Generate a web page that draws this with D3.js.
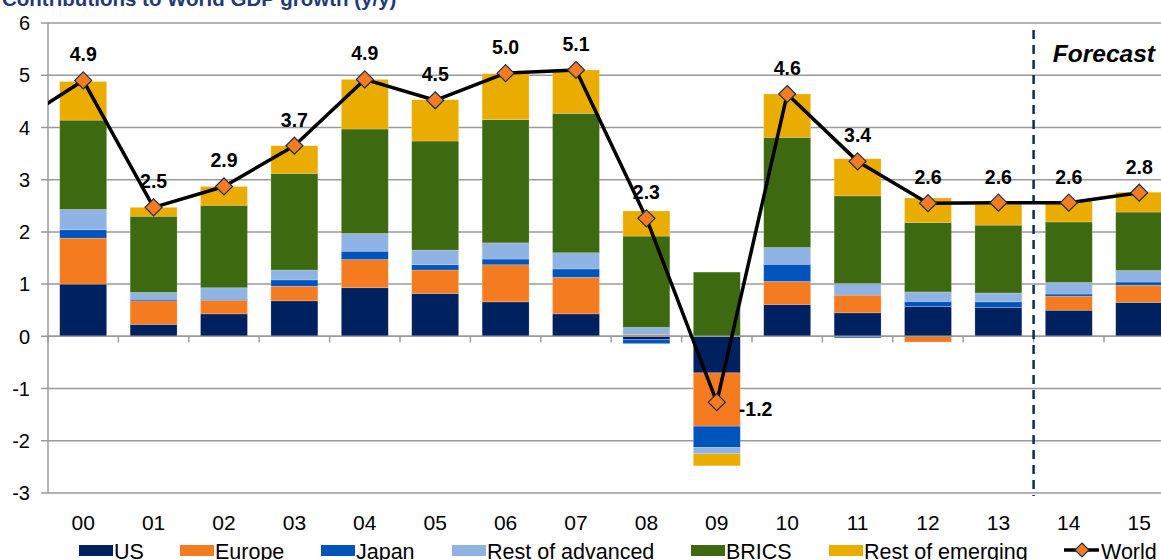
<!DOCTYPE html>
<html>
<head>
<meta charset="utf-8">
<script src="https://d3js.org/d3.v7.min.js"></script>
<style>
body { margin: 0; background: #fff; }
svg { display: block; font-family: "Liberation Sans", Arial, sans-serif; }
</style>
</head>
<body>
<div id="chart"></div>
<script>
// contributions to world GDP growth, percentage points
var years = ["00","01","02","03","04","05","06","07","08","09","10","11","12","13","14","15"];
var us      = [1.00, 0.23, 0.43, 0.68, 0.93, 0.82, 0.66, 0.43, -0.06, -0.70, 0.61, 0.45, 0.57, 0.55, 0.50, 0.65];
var europe  = [0.88, 0.45, 0.26, 0.28, 0.54, 0.45, 0.71, 0.70, 0.03, -1.02, 0.44, 0.34, -0.11, 0.00, 0.27, 0.33];
var japan   = [0.16, 0.03, 0.02, 0.12, 0.16, 0.10, 0.11, 0.16, -0.08, -0.41, 0.33, -0.03, 0.10, 0.11, 0.04, 0.06];
var restAdv = [0.39, 0.13, 0.22, 0.19, 0.34, 0.28, 0.31, 0.31, 0.14, -0.12, 0.32, 0.22, 0.18, 0.17, 0.22, 0.22];
var brics   = [1.71, 1.46, 1.58, 1.85, 2.00, 2.09, 2.36, 2.67, 1.75, 1.23, 2.11, 1.68, 1.33, 1.30, 1.16, 1.12];
var restEm  = [0.74, 0.17, 0.36, 0.53, 0.95, 0.79, 0.88, 0.83, 0.48, -0.23, 0.83, 0.71, 0.47, 0.40, 0.40, 0.38];
var world   = [4.90, 2.47, 2.87, 3.65, 4.92, 4.52, 5.04, 5.10, 2.26, -1.26, 4.64, 3.35, 2.55, 2.56, 2.56, 2.75];
var worldLabels = ["4.9","2.5","2.9","3.7","4.9","4.5","5.0","5.1","2.3","-1.2","4.6","3.4","2.6","2.6","2.6","2.8"];
var world99 = 4.03; // previous year, only the line segment entering the plot is visible
var yTicks = [-3,-2,-1,0,1,2,3,4,5,6];

var seriesNames = ["US","Europe","Japan","Rest of advanced","BRICS","Rest of emerging"];
var seriesVals = [us, europe, japan, restAdv, brics, restEm];
var colors = ["#00215F","#F47B20","#0054BB","#8FB3E2","#3D6A10","#EBAC00"];

var width = 1161, height = 560;
var plotLeft = 48, plotTop = 23, plotBottom = 493;
var step = 70.4;

var svg = d3.select("#chart").append("svg")
	.attr("width", width)
	.attr("height", height);

var xscale = d3.scaleBand()
	.domain(years)
	.range([plotLeft, plotLeft + step*years.length])
	.paddingInner(0.333)
	.paddingOuter(0.1665);

var yscale = d3.scaleLinear()
	.domain([-3, 6])
	.range([plotBottom, plotTop]);

// table for stacking
var table = years.map(function(y, i) {
	var row = {year: y};
	seriesNames.forEach(function(n, j) { row[n] = seriesVals[j][i]; });
	return row;
});
var stacked = d3.stack()
	.keys(seriesNames)
	.offset(d3.stackOffsetDiverging)(table);

// gridlines
svg.append("g")
	.selectAll("line")
	.data(yTicks)
	.enter().append("line")
	.attr("x1", plotLeft - 7)
	.attr("x2", width)
	.attr("y1", function(d) { return yscale(d); })
	.attr("y2", function(d) { return yscale(d); })
	.attr("stroke", "#9a9a9a")
	.attr("stroke-width", 1.5);

// y labels
svg.append("g")
	.selectAll("text")
	.data(yTicks)
	.enter().append("text")
	.attr("x", 30)
	.attr("y", function(d) { return yscale(d); })
	.attr("dy", "0.36em")
	.attr("text-anchor", "end")
	.attr("font-size", 20)
	.attr("fill", "#000")
	.text(function(d) { return d; });

// y axis line
svg.append("line")
	.attr("x1", plotLeft).attr("x2", plotLeft)
	.attr("y1", plotTop).attr("y2", plotBottom)
	.attr("stroke", "#9a9a9a")
	.attr("stroke-width", 1.5);

// bars
svg.append("g")
	.selectAll("g")
	.data(stacked)
	.enter().append("g")
	.attr("fill", function(d, i) { return colors[i]; })
	.selectAll("rect")
	.data(function(d) { return d; })
	.enter().append("rect")
	.attr("x", function(d) { return xscale(d.data.year); })
	.attr("width", xscale.bandwidth())
	.attr("y", function(d) { return yscale(Math.max(d[0], d[1])); })
	.attr("height", function(d) { return Math.abs(yscale(d[0]) - yscale(d[1])); })
	.attr("stroke", "#ffffff")
	.attr("stroke-opacity", 0.35)
	.attr("stroke-width", 0.6);

// x axis at zero with ticks between categories
var zeroY = yscale(0);
svg.append("line")
	.attr("x1", plotLeft).attr("x2", width)
	.attr("y1", zeroY).attr("y2", zeroY)
	.attr("stroke", "#9a9a9a")
	.attr("stroke-width", 1.5);
svg.append("g")
	.selectAll("line")
	.data(d3.range(years.length + 1))
	.enter().append("line")
	.attr("x1", function(i) { return plotLeft + i*step; })
	.attr("x2", function(i) { return plotLeft + i*step; })
	.attr("y1", zeroY)
	.attr("y2", zeroY + 6)
	.attr("stroke", "#9a9a9a")
	.attr("stroke-width", 1.5);

// x labels
svg.append("g")
	.selectAll("text")
	.data(years)
	.enter().append("text")
	.attr("x", function(d) { return xscale(d) + xscale.bandwidth()/2; })
	.attr("y", 530)
	.attr("text-anchor", "middle")
	.attr("font-size", 21)
	.attr("fill", "#000")
	.text(function(d) { return d; });

// forecast divider
svg.append("line")
	.attr("x1", plotLeft + 14*step).attr("x2", plotLeft + 14*step)
	.attr("y1", 30).attr("y2", 496)
	.attr("stroke", "#0D2A5C")
	.attr("stroke-width", 2.5)
	.attr("stroke-dasharray", "9,6");
svg.append("text")
	.attr("x", 1155)
	.attr("y", 62)
	.attr("text-anchor", "end")
	.attr("font-size", 24.5)
	.attr("font-weight", "bold")
	.attr("font-style", "italic")
	.text("Forecast");

// world line
svg.append("clipPath").attr("id", "plotclip")
	.append("rect").attr("x", plotLeft).attr("y", 0).attr("width", width - plotLeft).attr("height", height);

var cx = function(i) { return xscale(years[i]) + xscale.bandwidth()/2; };
var pts = [[cx(0) - step, yscale(world99)]].concat(world.map(function(v, i) { return [cx(i), yscale(v)]; }));
svg.append("path")
	.attr("clip-path", "url(#plotclip)")
	.attr("d", d3.line()(pts))
	.attr("fill", "none")
	.attr("stroke", "#000")
	.attr("stroke-width", 3.5)
	.attr("stroke-linejoin", "round");

function diamond(sel, x, y, s) {
	return sel.append("path")
		.attr("d", "M" + x + "," + (y - s) + "L" + (x + s) + "," + y + "L" + x + "," + (y + s) + "L" + (x - s) + "," + y + "Z")
		.attr("fill", "#F47B20")
		.attr("stroke", "#1A2F5A")
		.attr("stroke-width", 1.2);
}
world.forEach(function(v, i) {
	diamond(svg, cx(i), yscale(v), 8.5);
});

// value labels
svg.append("g")
	.selectAll("text")
	.data(world)
	.enter().append("text")
	.attr("x", function(d, i) { return i == 9 ? cx(i) + 22 : cx(i); })
	.attr("y", function(d, i) { return i == 9 ? yscale(d) + 14 : yscale(d) - 19; })
	.attr("text-anchor", function(d, i) { return i == 9 ? "start" : "middle"; })
	.attr("font-size", 19.5)
	.attr("font-weight", "bold")
	.text(function(d, i) { return worldLabels[i]; });

// title, cut at the top like the original
svg.append("text")
	.attr("x", 2)
	.attr("y", 6)
	.attr("font-size", 20.5)
	.attr("font-weight", "bold")
	.attr("fill", "#1F3A78")
	.text("Contributions to World GDP growth (y/y)");

// legend
var legX = [79, 180, 321, 452, 691, 829];
var leg = svg.append("g");
seriesNames.forEach(function(n, i) {
	leg.append("rect")
		.attr("x", legX[i]).attr("y", 545)
		.attr("width", 34).attr("height", 11)
		.attr("fill", colors[i]);
	leg.append("text")
		.attr("x", legX[i] + 35).attr("y", 559)
		.attr("font-size", 21.5)
		.text(n);
});
leg.append("line")
	.attr("x1", 1064).attr("x2", 1099)
	.attr("y1", 550).attr("y2", 550)
	.attr("stroke", "#000").attr("stroke-width", 3.5);
diamond(leg, 1082, 550, 7);
leg.append("text")
	.attr("x", 1101).attr("y", 559)
	.attr("font-size", 21.5)
	.text("World");
</script>
</body>
</html>
